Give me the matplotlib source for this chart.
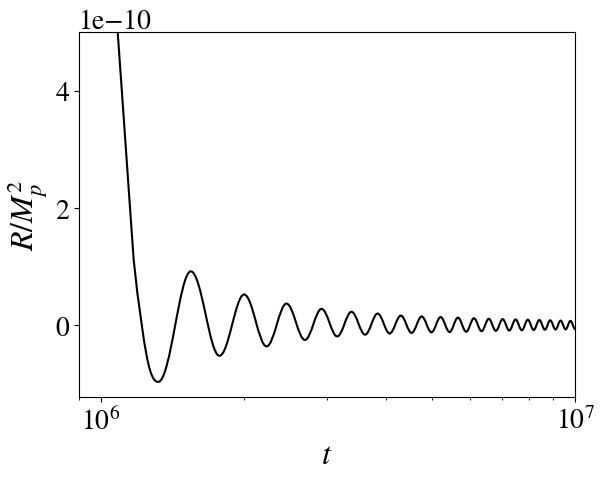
import numpy as np
import matplotlib
matplotlib.use("Agg")
import matplotlib.pyplot as plt
from matplotlib.path import Path
from matplotlib.patches import PathPatch
from matplotlib.ticker import MultipleLocator


# --------------------------------------------------------------
# data (t in units of 1e6, R in 1e-10)
# --------------------------------------------------------------
T_SCALE = 1e6
R_SCALE = 1e-10

# steep fall at the start of the plot
t_descent = [1.0756, 1.0860, 1.1074, 1.1524, 1.1729, 1.1941, 1.2203]
r_descent = [5.45, 4.97, 4.00, 2.00, 1.12, 0.55, 0.00]

# troughs of the oscillation
t_troughs = [1.3212, 1.7786, 2.2360, 2.6934, 3.1508, 3.6082, 4.0656,
             4.5230, 4.9804, 5.4378, 5.8952, 6.3526, 6.8100, 7.2674,
             7.7248, 8.1822, 8.6396, 9.0970, 9.5544, 10.0118]
r_troughs = [-0.966, -0.52, -0.36, -0.25, -0.19, -0.16, -0.14,
             -0.13, -0.12, -0.115, -0.11, -0.10, -0.095, -0.09,
             -0.085, -0.08, -0.075, -0.072, -0.07, -0.068]

# peaks of the oscillation
t_peaks = [1.5480, 2.0054, 2.4628, 2.9202, 3.3776, 3.8350, 4.2924,
           4.7498, 5.2072, 5.6646, 6.1220, 6.5794, 7.0368, 7.4942,
           7.9516, 8.4090, 8.8664, 9.3238, 9.7812]
r_peaks = [0.92, 0.525, 0.37, 0.28, 0.23, 0.20, 0.165,
           0.15, 0.14, 0.13, 0.12, 0.11, 0.105, 0.10,
           0.095, 0.09, 0.085, 0.08, 0.075]

x_limits = (9.0e5, 1.0e7)
y_limits = (-1.22e-10, 5.0e-10)
y_tick_step = 2e-10


# --------------------------------------------------------------
# smooth curve: straight pieces for the fall, cubic arcs between extrema
# --------------------------------------------------------------
def build_curve(k=0.364):
    td = np.array(t_descent) * T_SCALE
    rd = np.array(r_descent) * R_SCALE

    ext = sorted(zip(np.array(t_troughs + t_peaks) * T_SCALE,
                     np.array(r_troughs + r_peaks) * R_SCALE))

    verts = [(td[0], rd[0])]
    codes = [Path.MOVETO]
    for t, r in zip(td[1:], rd[1:]):
        verts.append((t, r))
        codes.append(Path.LINETO)

    # bend from the fall into the first trough
    slope = (rd[-1] - rd[-2]) / (td[-1] - td[-2])
    t0, r0 = td[-1], rd[-1]
    t1, r1 = ext[0]
    d = k * (t1 - t0)
    verts += [(t0 + d, r0 + slope * d), (t1 - d, r1), (t1, r1)]
    codes += [Path.CURVE4] * 3

    for (ta, ra), (tb, rb) in zip(ext[:-1], ext[1:]):
        d = k * (tb - ta)
        verts += [(ta + d, ra), (tb - d, rb), (tb, rb)]
        codes += [Path.CURVE4] * 3

    return Path(verts, codes)


def main():
    plt.rcParams.update({
        "font.family": "STIXGeneral",
        "mathtext.fontset": "stix",
        "font.size": 20,
    })

    fig = plt.figure(figsize=(6.04, 4.81), dpi=100)
    ax = fig.add_subplot(111)
    fig.subplots_adjust(left=0.131, right=0.952, bottom=0.173, top=0.931)

    ax.set_xscale("log")
    ax.add_patch(PathPatch(build_curve(), facecolor="none",
                           edgecolor="black", lw=1.5))

    ax.set_xlim(*x_limits)
    ax.set_ylim(*y_limits)
    ax.yaxis.set_major_locator(MultipleLocator(y_tick_step))

    ax.set_xlabel("$t$", fontsize=23)
    ax.set_ylabel("$R/M_p^2$", fontsize=23)

    fig.savefig("out.png", dpi=100)


if __name__ == "__main__":
    main()
